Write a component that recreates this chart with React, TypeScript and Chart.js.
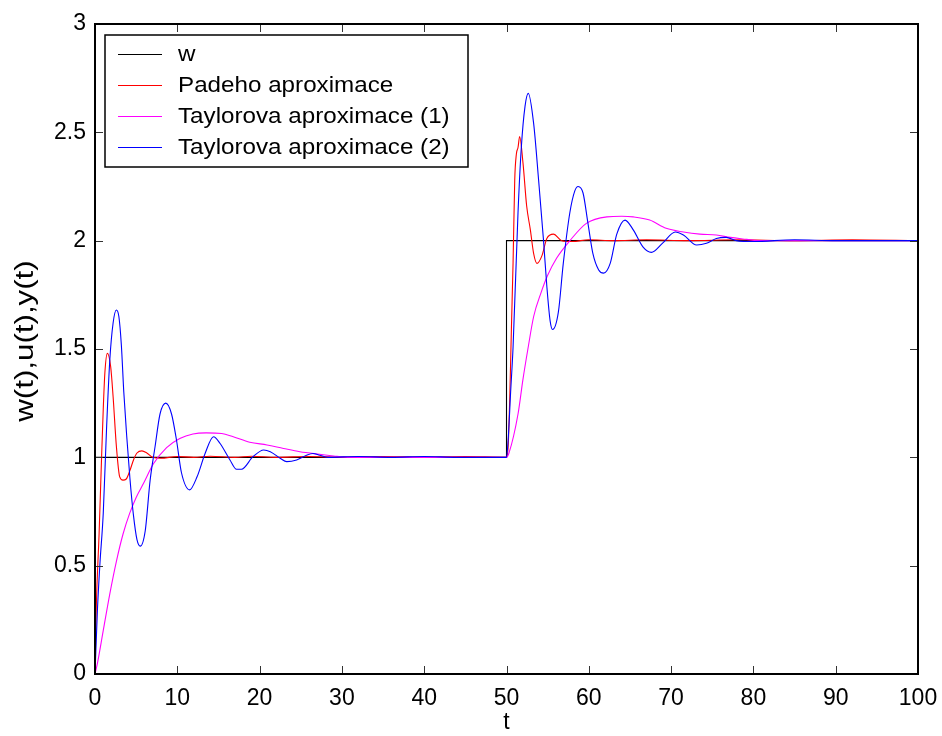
import React, { useEffect, useRef } from 'react';
import { Chart, registerables } from 'chart.js';

Chart.register(...registerables);

// ---- data (t, value) ----
const wT = [0, 0, 50, 50, 100];
const wY = [0, 1, 1, 2, 2];

const padeT = [0, 0.15, 0.5, 0.8, 1.0, 1.2, 1.5, 1.9, 2.2, 2.6, 3.0, 3.4, 3.8, 4.25, 4.7, 5.1, 5.7, 6.3, 7.0, 8.0, 10.0, 12.0, 14.0, 17.0, 19.0, 22.0, 26.0, 30.0, 35.0, 40.0, 45.0, 49.9,
  50.0, 50.2, 50.4, 50.6, 50.8, 51.0, 51.2, 51.4, 51.6, 52.0, 52.45, 52.9, 53.3, 53.7, 54.3, 54.9, 55.7, 56.7, 58.0, 60.0, 63.0, 67.0, 72.0, 78.0, 85.0, 92.0, 100.0];
const padeY = [0, 0.3, 0.65, 1.0, 1.22, 1.39, 1.48, 1.42, 1.28, 1.05, 0.91, 0.895, 0.9, 0.94, 0.99, 1.02, 1.03, 1.02, 1.0, 0.996, 1.004, 1.0, 1.005, 1.0, 1.005, 1.0, 1.004, 1.0, 1.004, 1.0, 1.004, 1.0,
  1.0, 1.05, 1.28, 1.6, 1.9, 2.28, 2.4, 2.43, 2.48, 2.36, 2.16, 2.05, 1.94, 1.895, 1.93, 2.01, 2.03, 2.0, 1.996, 2.004, 2.0, 2.004, 2.0, 2.004, 2.0, 2.004, 2.0];

const taylor1T = [0, 0.3, 1.0, 1.8, 2.6, 3.4, 4.2, 5.0, 5.9, 7.1, 8.7, 10.3, 11.9, 13.5, 15.4, 16.8, 18.8, 20.9, 22.9, 24.9, 27.3, 29.0, 31.0, 40.0, 50.0,
  50.3, 51.4, 52.0, 52.6, 53.3, 54.2, 55.0, 56.1, 57.7, 59.7, 62.2, 64.0, 65.4, 67.4, 69.4, 71.5, 73.5, 75.5, 77.2, 79.2, 80.5, 90.0, 100.0];
const taylor1Y = [0, 0.05, 0.2, 0.37, 0.52, 0.645, 0.74, 0.815, 0.88, 0.97, 1.045, 1.087, 1.108, 1.113, 1.11, 1.095, 1.07, 1.057, 1.041, 1.026, 1.014, 1.006, 1.0, 1.0, 1.0,
  1.02, 1.2, 1.36, 1.5, 1.65, 1.76, 1.84, 1.92, 2.0, 2.08, 2.11, 2.113, 2.11, 2.095, 2.057, 2.04, 2.03, 2.026, 2.015, 2.006, 2.0, 2.0, 2.0];

const taylor2T = [0, 0.3, 0.6, 1.0, 1.4, 1.8, 2.2, 2.6, 2.9, 3.2, 3.5, 3.85, 4.25, 4.65, 5.1, 5.5, 6.1, 6.7, 7.3, 7.9, 8.6, 9.3, 9.9, 10.5, 11.5, 12.4, 13.4, 14.4, 15.2, 16.4, 17.2, 17.8, 19.2, 20.5, 21.3, 22.5, 23.3, 24.5, 25.7, 26.5, 27.3, 28.3, 32.0, 36.0, 40.0, 44.0, 50.0,
  50.2, 50.5, 50.8, 51.4, 51.8, 52.25, 52.65, 53.3, 53.9, 54.5, 54.9, 55.3, 55.6, 56.3, 56.9, 57.7, 58.3, 58.7, 59.3, 59.9, 60.5, 61.2, 61.8, 62.6, 63.4, 64.4, 65.4, 66.6, 67.6, 69.0, 70.5, 71.5, 73.1, 74.3, 75.5, 76.7, 77.9, 80.0, 85.0, 90.0, 100.0];
const taylor2Y = [0, 0.3, 0.51, 0.74, 1.13, 1.45, 1.62, 1.68, 1.65, 1.52, 1.3, 1.1, 0.9, 0.74, 0.62, 0.59, 0.66, 0.895, 1.05, 1.2, 1.25, 1.2, 1.08, 0.93, 0.85, 0.91, 1.02, 1.095, 1.064, 0.988, 0.945, 0.945, 1.003, 1.034, 1.026, 0.996, 0.98, 0.988, 1.01, 1.018, 1.01, 1.0, 1.004, 1.0, 1.004, 1.0, 1.0,
  1.08, 1.3, 1.51, 2.13, 2.43, 2.62, 2.68, 2.54, 2.28, 2.0, 1.79, 1.63, 1.59, 1.67, 1.895, 2.13, 2.23, 2.25, 2.22, 2.08, 1.94, 1.865, 1.85, 1.895, 2.03, 2.095, 2.05, 1.97, 1.946, 1.99, 2.04, 2.026, 1.98, 1.988, 2.01, 2.015, 2.0, 1.996, 2.004, 2.0, 2.0];

const seriesLabels = ['w', 'Padeho aproximace', 'Taylorova aproximace (1)', 'Taylorova aproximace (2)'];
const seriesColors = ['#000000', '#ff0000', '#ff00ff', '#0000ff'];
const xTickValues = [0, 10, 20, 30, 40, 50, 60, 70, 80, 90, 100];
const xTickLabels = ['0', '10', '20', '30', '40', '50', '60', '70', '80', '90', '100'];
const yTickValues = [0, 0.5, 1, 1.5, 2, 2.5, 3];
const yTickLabels = ['0', '0.5', '1', '1.5', '2', '2.5', '3'];
const xTitle = 't';
const yTitle = 'w(t),u(t),y(t)';

const FONT = '"Liberation Sans", Arial, Helvetica, sans-serif';

function pts(t: number[], y: number[]) {
  return t.map((v, i) => ({ x: v, y: y[i] }));
}

const framePlugin = {
  id: 'matlabFrame',
  afterDraw(chart: any) {
    const { ctx, chartArea } = chart;
    const { left, right, top, bottom } = chartArea;
    const xs = chart.scales.x;
    const ys = chart.scales.y;
    ctx.save();
    // ticks (inward, all four sides)
    ctx.strokeStyle = '#333';
    ctx.lineWidth = 1;
    const tl = 8;
    ctx.beginPath();
    xTickValues.forEach((v) => {
      const px = Math.round(xs.getPixelForValue(v)) + 0.5;
      ctx.moveTo(px, bottom);
      ctx.lineTo(px, bottom - tl);
      ctx.moveTo(px, top);
      ctx.lineTo(px, top + tl);
    });
    yTickValues.forEach((v) => {
      const py = Math.round(ys.getPixelForValue(v)) + 0.5;
      ctx.moveTo(left, py);
      ctx.lineTo(left + tl, py);
      ctx.moveTo(right, py);
      ctx.lineTo(right - tl, py);
    });
    ctx.stroke();
    // box
    ctx.strokeStyle = '#000';
    ctx.lineWidth = 2;
    ctx.strokeRect(left, top, right - left, bottom - top);

    // legend box
    const lx = left + 10;
    const ly = top + 11;
    const lw = 363;
    const lh = 132;
    ctx.fillStyle = '#fff';
    ctx.fillRect(lx, ly, lw, lh);
    ctx.strokeStyle = '#000';
    ctx.lineWidth = 1.5;
    ctx.strokeRect(lx, ly, lw, lh);
    chart.data.datasets.forEach((ds: any, i: number) => {
      const cy = ly + 19.5 + i * 31;
      ctx.strokeStyle = ds.borderColor;
      ctx.lineWidth = 1;
      ctx.beginPath();
      ctx.moveTo(lx + 13, cy);
      ctx.lineTo(lx + 57, cy);
      ctx.stroke();
      ctx.save();
      ctx.translate(lx + 73, cy);
      ctx.scale(1.1, 1);
      ctx.fillStyle = '#000';
      ctx.font = '22px ' + FONT;
      ctx.textAlign = 'left';
      ctx.textBaseline = 'middle';
      ctx.fillText(ds.label, 0, 0);
      ctx.restore();
    });

    // y title (stretched like the reference)
    ctx.save();
    ctx.translate(33, (top + bottom) / 2 - 8);
    ctx.rotate(-Math.PI / 2);
    ctx.scale(1.25, 1);
    ctx.fillStyle = '#000';
    ctx.font = '25px ' + FONT;
    ctx.textAlign = 'center';
    ctx.textBaseline = 'alphabetic';
    ctx.fillText(yTitle, 0, 0);
    ctx.restore();
    ctx.restore();
  },
};

export default function App() {
  const ref = useRef<HTMLCanvasElement | null>(null);
  useEffect(() => {
    if (!ref.current) return;
    const seriesT = [wT, padeT, taylor1T, taylor2T];
    const seriesY = [wY, padeY, taylor1Y, taylor2Y];
    const chart = new Chart(ref.current, {
      type: 'line',
      data: {
        datasets: seriesLabels.map((label, i) => ({
          label,
          data: pts(seriesT[i], seriesY[i]),
          borderColor: seriesColors[i],
          backgroundColor: seriesColors[i],
          borderWidth: 1.1,
          pointRadius: 0,
          tension: 0,
          cubicInterpolationMode: i === 0 ? 'default' : 'monotone',
          fill: false,
          order: 4 - i,
        })),
      },
      options: {
        animation: false,
        responsive: false,
        devicePixelRatio: 1,
        layout: { padding: { left: 0, right: 24, top: 24, bottom: 0 } },
        plugins: { legend: { display: false }, tooltip: { enabled: false } },
        scales: {
          x: {
            type: 'linear',
            min: 0,
            max: 100,
            afterBuildTicks: (s: any) => { s.ticks = xTickValues.map((v) => ({ value: v })); },
            afterFit: (s: any) => { s.height = 62; s.paddingLeft = 0; s.paddingRight = 0; },
            ticks: {
              padding: 11, color: '#000', font: { family: FONT, size: 23 }, maxRotation: 0, autoSkip: false,
              callback: (_v: any, i: number) => xTickLabels[i],
            },
            grid: { display: false, drawTicks: false },
            border: { display: false },
            title: { display: true, text: xTitle, color: '#000', font: { family: FONT, size: 23 }, padding: { top: 0, bottom: 0 } },
          },
          y: {
            type: 'linear',
            min: 0,
            max: 3,
            afterBuildTicks: (s: any) => { s.ticks = yTickValues.map((v) => ({ value: v })); },
            afterFit: (s: any) => { s.width = 95; s.paddingTop = 0; s.paddingBottom = 0; },
            ticks: {
              padding: 9, color: '#000', font: { family: FONT, size: 23 },
              callback: (_v: any, i: number) => yTickLabels[i],
            },
            grid: { display: false, drawTicks: false },
            border: { display: false },
          },
        },
      },
      plugins: [framePlugin],
    } as any);
    return () => chart.destroy();
  }, []);
  return (
    <div style={{ position: 'absolute', left: 0, top: 0, width: 942, height: 736, background: '#fff' }}>
      <canvas ref={ref} width={942} height={736} style={{ width: 942, height: 736, display: 'block' }} />
    </div>
  );
}
